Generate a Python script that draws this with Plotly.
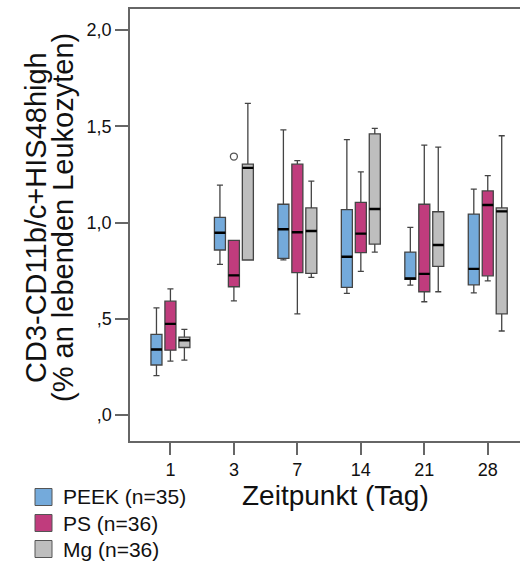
import plotly.graph_objects as go

days = ["1", "3", "7", "14", "21", "28"]
groups = ["PEEK (n=35)", "PS (n=36)", "Mg (n=36)"]
colors = ["#74aadb", "#c03c7d", "#bebebe"]

# PEEK
peek_low = [0.204, 0.782, 0.806, 0.631, 0.674, 0.634]
peek_q1 = [0.259, 0.857, 0.814, 0.663, 0.704, 0.676]
peek_med = [0.340, 0.947, 0.965, 0.822, 0.709, 0.759]
peek_q3 = [0.418, 1.027, 1.095, 1.067, 0.846, 1.044]
peek_up = [0.556, 1.194, 1.482, 1.431, 0.975, 1.174]

# PS
ps_low = [0.279, 0.593, 0.525, 0.746, 0.588, 0.697]
ps_q1 = [0.336, 0.666, 0.739, 0.843, 0.640, 0.723]
ps_med = [0.473, 0.725, 0.949, 0.942, 0.733, 1.091]
ps_q3 = [0.591, 0.907, 1.303, 1.105, 1.095, 1.164]
ps_up = [0.655, 0.907, 1.322, 1.263, 1.402, 1.244]

# Mg
mg_low = [0.284, 0.805, 0.715, 0.846, 0.640, 0.436]
mg_q1 = [0.350, 0.805, 0.735, 0.888, 0.772, 0.525]
mg_med = [0.388, 1.284, 0.956, 1.070, 0.883, 1.058]
mg_q3 = [0.404, 1.303, 1.076, 1.461, 1.056, 1.076]
mg_up = [0.444, 1.619, 1.215, 1.489, 1.392, 1.451]

# outlier (PS, day 3)
out_x = ["3"]
out_y = [1.343]

ytick_vals = [0, 0.5, 1.0, 1.5, 2.0]
ytick_text = [",0", ",5", "1,0", "1,5", "2,0"]

stats = [
    (peek_low, peek_q1, peek_med, peek_q3, peek_up),
    (ps_low, ps_q1, ps_med, ps_q3, ps_up),
    (mg_low, mg_q1, mg_med, mg_q3, mg_up),
]

FONT = "Liberation Sans, Arial, sans-serif"

# pixel geometry of the plot area
L, R, T, B = 130, 0, 9, 124
W, H = 520, 565
PW, PH = W - L - R, H - T - B


def px(xp):
    return (xp - L) / PW


def py(yp):
    return (H - B - yp) / PH


fig = go.Figure()
for name, col, (lo, q1, md, q3, up) in zip(groups, colors, stats):
    fig.add_trace(go.Box(
        x=days, lowerfence=lo, q1=q1, median=md, q3=q3, upperfence=up,
        name=name, fillcolor=col, line=dict(color="#444444", width=1.3),
        whiskerwidth=0.55, boxpoints=False, showlegend=False,
        offsetgroup=name, hoverinfo="skip",
    ))
# thick black median lines overlaid on each box
for name, (lo, q1, md, q3, up) in zip(groups, stats):
    fig.add_trace(go.Box(
        x=days, lowerfence=md, q1=md, median=md, q3=md, upperfence=md,
        name=name + " median", fillcolor="rgba(0,0,0,0)",
        line=dict(color="#000000", width=2.4),
        whiskerwidth=0, boxpoints=False, showlegend=False,
        offsetgroup=name, hoverinfo="skip",
    ))

fig.add_trace(go.Scatter(
    x=out_x, y=out_y, mode="markers", showlegend=False,
    marker=dict(symbol="circle-open", size=7, color="#555555", line=dict(width=1.3)),
))

shapes = []
annotations = []
for i, (name, col) in enumerate(zip(groups, colors)):
    cy = 497 + 26 * i
    shapes.append(dict(type="rect", xref="paper", yref="paper",
                       x0=px(35), x1=px(52), y0=py(cy + 8.5), y1=py(cy - 8.5),
                       fillcolor=col, line=dict(color="#555555", width=1)))
    annotations.append(dict(text=name, xref="paper", yref="paper",
                            x=px(61), y=py(cy), xanchor="left", yanchor="middle",
                            showarrow=False, font=dict(size=21)))

annotations += [
    dict(text="CD3-CD11b/c+HIS48high", xref="paper", yref="paper",
         x=px(36), y=py(218), xanchor="center", yanchor="middle",
         textangle=-90, showarrow=False, font=dict(size=29)),
    dict(text="(% an lebenden Leukozyten)", xref="paper", yref="paper",
         x=px(63), y=py(218), xanchor="center", yanchor="middle",
         textangle=-90, showarrow=False, font=dict(size=29)),
    dict(text="Zeitpunkt (Tag)", xref="paper", yref="paper",
         x=px(335), y=py(495), xanchor="center", yanchor="middle",
         showarrow=False, font=dict(size=28)),
]

fig.update_layout(
    width=W, height=H,
    margin=dict(l=L, r=R, t=T, b=B),
    paper_bgcolor="white", plot_bgcolor="white",
    boxmode="group", boxgap=0.34, boxgroupgap=0.21,
    font=dict(family=FONT, color="#111111", size=18),
    showlegend=False,
    xaxis=dict(type="category", categoryorder="array", categoryarray=days,
               range=[-0.637, 5.508], showline=True, mirror=True,
               linecolor="#666666", linewidth=1.5, ticks="outside", ticklen=12,
               tickcolor="#666666", tickwidth=1.5, showgrid=False,
               tickfont=dict(size=18)),
    yaxis=dict(range=[-0.136, 2.11], tickvals=ytick_vals, ticktext=ytick_text,
               showline=True, linecolor="#666666", linewidth=1.5,
               ticks="outside", ticklen=13, tickcolor="#666666", tickwidth=1.5,
               showgrid=False, zeroline=False, tickfont=dict(size=18)),
    shapes=shapes,
    annotations=annotations,
)

fig.write_html("out.html")
